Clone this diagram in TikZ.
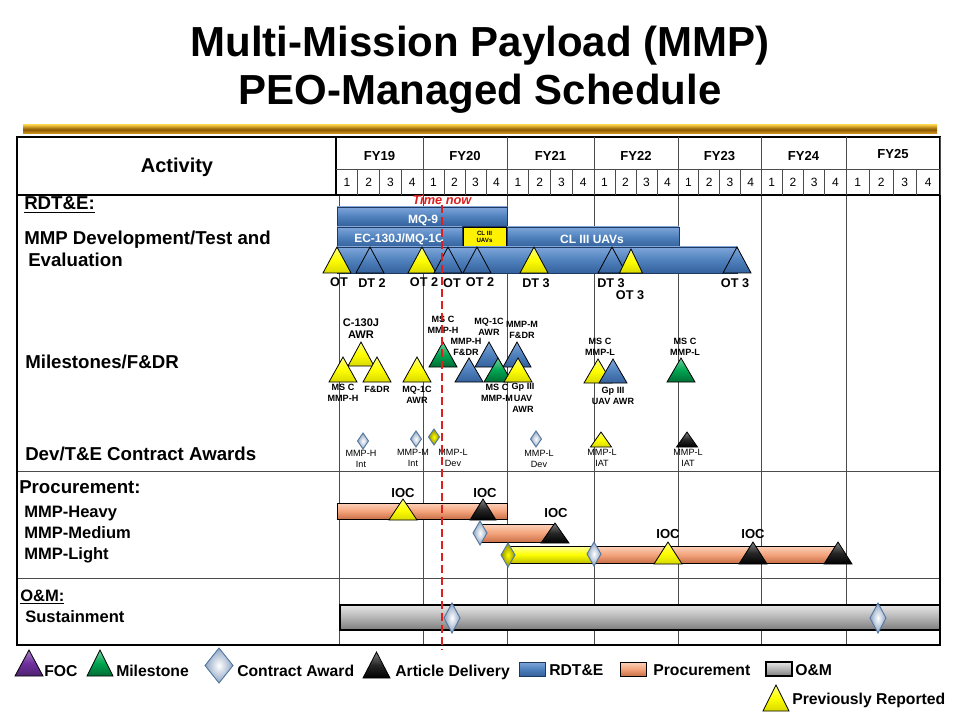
\documentclass[tikz,border=0pt]{standalone}
\usepackage{fontspec}
\setmainfont{Liberation Sans}
\usetikzlibrary{shapes.geometric}
\definecolor{rdtblue}{HTML}{4F81BD}
\definecolor{rdtlight}{HTML}{7FA6DA}
\definecolor{rdtdeep}{HTML}{34619C}
\definecolor{rdtdark}{HTML}{1F3A60}
\definecolor{procor}{HTML}{F4A47C}
\definecolor{proclight}{HTML}{FCD3BC}
\definecolor{procdark}{HTML}{C97048}
\definecolor{omgray}{HTML}{B4B4B4}
\definecolor{omlight}{HTML}{E6E6E6}
\definecolor{omdark}{HTML}{7C7C7C}
\definecolor{msgreen}{HTML}{00A651}
\definecolor{focpurple}{HTML}{7030A0}
\definecolor{goldA}{HTML}{F2C440}
\definecolor{goldB}{HTML}{8C5800}
\definecolor{goldC}{HTML}{DDA024}
\definecolor{timered}{HTML}{DD1F1F}
\definecolor{diaedge}{HTML}{56779F}
\definecolor{diaout}{HTML}{8DA4C2}
\newcommand{\Tri}[5][14]{\draw[#2] ({#3-#1},#5) -- (#3,#4) -- ({#3+#1},#5) -- cycle;}
\newcommand{\Dia}[5][6]{\draw[#2] (#3,{#4-#5}) -- ({#3+#1},#4) -- (#3,{#4+#5}) -- ({#3-#1},#4) -- cycle;}
\tikzset{
  gridline/.style={draw=black!70, line width=0.6pt},
  frameline/.style={draw=black, line width=0.9pt},
  bluebar/.style={draw=rdtdark, line width=0.7pt, top color=rdtlight, bottom color=rdtdeep, middle color=rdtblue},
  orbar/.style={draw=black, line width=0.7pt, top color=proclight, bottom color=procdark, middle color=procor},
  yelbar/.style={draw=black, line width=0.7pt, top color=yellow!35!white, bottom color=yellow!75!black, middle color=yellow},
  graybar/.style={draw=black, line width=0.9pt, top color=omlight, bottom color=omdark, middle color=omgray},
  yeltri/.style={draw=black, line width=0.6pt, top color=yellow!50!white, bottom color=yellow!85!black, middle color=yellow},
  blutri/.style={draw=black, line width=0.6pt, top color=rdtlight, bottom color=rdtdeep, middle color=rdtblue},
  grntri/.style={draw=black, line width=0.6pt, top color=msgreen!55!white, bottom color=msgreen!65!black, middle color=msgreen},
  blktri/.style={draw=black, line width=0.6pt, top color=black!50, bottom color=black, middle color=black!85},
  purtri/.style={draw=black, line width=0.6pt, top color=focpurple!60!white, bottom color=focpurple!70!black, middle color=focpurple},
  silvdia/.style={draw=diaedge, line width=0.7pt, inner color=white, outer color=diaout},
  yeldia/.style={draw=diaedge, line width=0.7pt, inner color=yellow, outer color=yellow!55!black},
  ttl/.style={font=\bfseries\fontsize{31.5}{36}\selectfont, inner sep=0pt, anchor=base},
  hdr/.style={font=\bfseries\fontsize{15}{18}\selectfont, inner sep=0pt},
  sect/.style={font=\bfseries\fontsize{14}{17}\selectfont, anchor=base west, inner sep=0pt},
  rowlbl/.style={font=\bfseries\fontsize{12.4}{15}\selectfont, anchor=base west, inner sep=0pt},
  fylbl/.style={font=\bfseries\fontsize{9.8}{12}\selectfont, inner sep=0pt},
  qlbl/.style={font=\fontsize{9}{11}\selectfont, inner sep=0pt},
  barlbl/.style={font=\bfseries\fontsize{9}{11}\selectfont, text=white, inner sep=0pt},
  tinylbl/.style={font=\bfseries\fontsize{4.6}{5.2}\selectfont, align=center, inner sep=0pt},
  tlbl/.style={font=\bfseries\fontsize{9.5}{11}\selectfont, inner sep=0pt},
  mlbl/.style={font=\bfseries\fontsize{6.8}{8.6}\selectfont, align=center, inner sep=0pt},
  bigmlbl/.style={font=\bfseries\fontsize{8.3}{9}\selectfont, align=center, inner sep=0pt},
  clbl/.style={font=\fontsize{6.8}{8.2}\selectfont, align=center, inner sep=0pt},
  ioclbl/.style={font=\bfseries\fontsize{9.8}{12}\selectfont, inner sep=0pt},
  leglbl/.style={font=\bfseries\fontsize{11.8}{14}\selectfont, anchor=base west, inner sep=0pt},
  timeline/.style={draw=timered, line width=1.8pt, dash pattern=on 6pt off 3pt}
}
\begin{document}
\begin{tikzpicture}[x=0.75pt,y=-0.75pt]
\useasboundingbox (0,0) rectangle (960,720);
% ---------- title ----------
\node[ttl] (title1) at (480,57) {Multi-Mission Payload (MMP)};
\node[ttl] (title2) at (480,105) {PEO-Managed Schedule};
\shade[top color=goldA, bottom color=goldC, middle color=goldB] (23,125) rectangle (937,134);
% ---------- grid ----------
\foreach \xx in {339,423,507,594,678,761,846} \draw[gridline] (\xx,195) -- (\xx,645);
\draw[gridline] (17,471) -- (940,471);
\draw[gridline] (17,578) -- (940,578);
\draw[frameline] (17,137) rectangle (940,645);
\draw[frameline] (17,195) -- (940,195);
\draw[frameline] (336,137) -- (336,195);
\draw[gridline] (336,169) -- (940,169);
\foreach \a/\b/\t [count=\i] in {336/423/FY19,423/507/FY20,507/594/FY21,594/678/FY22,678/761/FY23,761/846/FY24,846/940/FY25}{
  \draw[gridline] (\b,137) -- (\b,195);
  \foreach \k in {1,2,3} \draw[gridline] ({\a+(\b-\a)*\k/4},169) -- ({\a+(\b-\a)*\k/4},195);
  \foreach \k in {1,2,3,4} \node[qlbl] (q\i-\k) at ({\a+(\b-\a)*(\k-0.5)/4},182.5) {\k};
}
\foreach \a/\b/\t/\yy in {336/423/FY19/156,423/507/FY20/156,507/594/FY21/156,594/678/FY22/156,678/761/FY23/156,761/846/FY24/156,846/940/FY25/154}
  \node[fylbl] (lbl\t) at ({(\a+\b)/2},\yy) {\t};
% ---------- left column ----------
\node[hdr] (activity) at (177,167) {Activity};
\node[sect] (rdte) at (24,210) {\underline{RDT\&E:}};
\node[sect] (mmpdev) at (24,245) {MMP Development/Test and};
\node[sect] (evalu) at (28,267) {Evaluation};
\node[sect] (milest) at (25,368) {Milestones/F\&DR};
\node[sect] (devte) at (25,460) {Dev/T\&E Contract Awards};
\node[sect] (procur) at (19,493) {Procurement:};
\node[rowlbl] (heavy) at (24,517) {MMP-Heavy};
\node[rowlbl] (medium) at (24,538) {MMP-Medium};
\node[rowlbl] (light) at (24,559) {MMP-Light};
\node[rowlbl] (om) at (20,601) {\underline{O\&M:}};
\node[rowlbl] (sustain) at (25,622) {Sustainment};
% ---------- RDT&E bars ----------
\draw[bluebar] (337,207) rectangle (507,226);
\draw[bluebar] (337,227) rectangle (462,247);
\draw[draw=black, line width=0.6pt, fill=yellow] (463,227) rectangle (506,247);
\draw[bluebar] (507,227) rectangle (679,247);
\draw[bluebar] (337,247) rectangle (737,273);
\node[barlbl] (mq9) at (423,220) {MQ-9};
\node[barlbl] (ec130) at (399,239) {EC-130J/MQ-1C};
\node[tinylbl] (cl3s) at (484.5,237) {CL III\\UAVs};
\node[barlbl] (cl3) at (592,239) {CL III UAVs};
\Tri{yeltri}{337}{247}{273}
\Tri{blutri}{370}{247}{273}
\Tri{yeltri}{422}{247}{273}
\Tri{blutri}{448}{247}{273}
\Tri{blutri}{477}{247}{273}
\Tri{yeltri}{534}{247}{273}
\Tri{blutri}{612}{247}{273}
\Tri[11.5]{yeltri}{631}{249}{273}
\Tri{blutri}{737}{247}{273}
\node[tlbl] (ot1) at (339,282) {OT};
\node[tlbl] (dt2) at (372,283) {DT 2};
\node[tlbl] (ot2a) at (424,282) {OT 2};
\node[tlbl] (ot1b) at (452,283) {OT};
\node[tlbl] (ot2b) at (480,282) {OT 2};
\node[tlbl] (dt3a) at (536,283) {DT 3};
\node[tlbl] (dt3b) at (611,283) {DT 3};
\node[tlbl] (ot3a) at (630,295) {OT 3};
\node[tlbl] (ot3b) at (735,283) {OT 3};
% ---------- Milestones ----------
\Tri[13]{yeltri}{361}{342}{366}
\Tri{yeltri}{343}{357}{382}
\Tri{yeltri}{377}{357}{382}
\Tri{yeltri}{417}{357}{382}
\Tri{grntri}{443}{342}{367}
\Tri{blutri}{489}{342}{367}
\Tri{blutri}{517}{342}{367}
\Tri{blutri}{469}{358}{382}
\Tri{grntri}{498}{358}{382}
\Tri{yeltri}{518}{358}{382}
\Tri{yeltri}{598}{359}{383}
\Tri{blutri}{613}{359}{383}
\Tri{grntri}{681}{358}{382}
\node[bigmlbl] (m1) at (361,329) {C-130J\\AWR};
\node[mlbl] (m2) at (343,393) {MS C\\MMP-H};
\node[mlbl] (m3) at (377,389) {F\&DR};
\node[mlbl] (m4) at (417,395) {MQ-1C\\AWR};
\node[mlbl] (m5) at (443,325) {MS C\\MMP-H};
\node[mlbl] (m6) at (466,347) {MMP-H\\F\&DR};
\node[mlbl] (m7) at (489,327) {MQ-1C\\AWR};
\node[mlbl] (m8) at (497,393) {MS C\\MMP-M};
\node[mlbl] (m9) at (522,330) {MMP-M\\F\&DR};
\node[mlbl] (m10) at (523,398) {Gp III\\UAV\\AWR};
\node[mlbl] (m11) at (600,347) {MS C\\MMP-L};
\node[mlbl] (m12) at (613,396) {Gp III\\UAV AWR};
\node[mlbl] (m13) at (685,347) {MS C\\MMP-L};
% ---------- Contract awards ----------
\Dia[5.5]{silvdia}{363}{441}{8}
\Dia[5.5]{silvdia}{416}{439}{8}
\Dia[5.5]{yeldia}{434}{437}{8}
\Dia[5.5]{silvdia}{536}{439}{8}
\Tri[10.5]{yeltri}{601}{432}{447}
\Tri[10.5]{blktri}{687}{432}{447}
\node[clbl] (c1) at (361,458.5) {MMP-H\\Int};
\node[clbl] (c2) at (413,458) {MMP-M\\Int};
\node[clbl] (c3) at (453,457.5) {MMP-L\\Dev};
\node[clbl] (c4) at (539,458.5) {MMP-L\\Dev};
\node[clbl] (c5) at (602,458) {MMP-L\\IAT};
\node[clbl] (c6) at (688,458) {MMP-L\\IAT};
% ---------- Procurement ----------
\draw[orbar] (337,503) rectangle (507,519);
\Tri{yeltri}{403}{499}{520}
\Tri[13]{blktri}{483}{499}{520}
\draw[orbar] (481,524) rectangle (553,542);
\Tri{blktri}{555}{523}{543}
\Dia[7]{silvdia}{480}{533}{12}
\draw[yelbar] (507,546) rectangle (594,563);
\draw[orbar] (594,546) rectangle (838,563);
\Dia[7]{yeldia}{508}{555}{12}
\Dia[7]{silvdia}{594}{554}{12}
\Tri{yeltri}{668}{542}{564}
\Tri{blktri}{753}{542}{564}
\Tri{blktri}{838}{542}{564}
\node[ioclbl] (ioc1) at (403,493) {IOC};
\node[ioclbl] (ioc2) at (485,493) {IOC};
\node[ioclbl] (ioc3) at (556,513) {IOC};
\node[ioclbl] (ioc4) at (668,534) {IOC};
\node[ioclbl] (ioc5) at (753,534) {IOC};
% ---------- O&M ----------
\draw[graybar] (340,605) rectangle (940,630);
\Dia[8]{silvdia}{452}{618}{15}
\Dia[8]{silvdia}{878}{618}{15}
% ---------- time now ----------
\node[font=\bfseries\itshape\fontsize{9.6}{11}\selectfont, text=timered, inner sep=0pt] (tnow) at (442,200) {Time now};
\coordinate (tend) at (442,650);
\draw[timeline] (tnow.south) -- (tend);
% ---------- legend ----------
\Tri{purtri}{29}{650}{676}
\node[leglbl] (lfoc) at (44,676) {FOC};
\Tri[13]{grntri}{100}{650}{676}
\node[leglbl] (lms) at (116,676) {Milestone};
\Dia[14]{silvdia}{219}{665.5}{17.5}
\node[leglbl] (lca) at (237,676) {Contract Award};
\Tri[13.5]{blktri}{376.5}{652}{678}
\node[leglbl] (lad) at (395,676) {Article Delivery};
\draw[bluebar] (519,662) rectangle (545,676);
\node[leglbl] (lrd) at (549,675) {RDT\&E};
\draw[orbar] (620,662) rectangle (646,676);
\node[leglbl] (lpr) at (653,675) {Procurement};
\draw[graybar] (766,662) rectangle (792,676);
\node[leglbl] (lom) at (795,675) {O\&M};
\Tri[13]{yeltri}{776}{685}{711}
\node[leglbl] (lprev) at (792,704) {Previously Reported};
\end{tikzpicture}
\end{document}
